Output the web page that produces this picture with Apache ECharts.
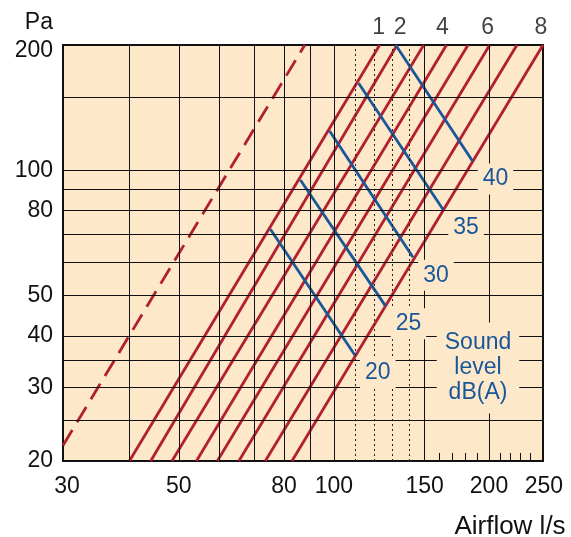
<!DOCTYPE html>
<html><head><meta charset="utf-8">
<script src="https://cdn.jsdelivr.net/npm/echarts@6/dist/echarts.min.js"></script>
<style>html,body{margin:0;padding:0;background:#fff}#c{width:571px;height:537px}</style>
</head><body><div id="c"></div>
<script>
// ---- data ----
const xTickLabels = [30, 50, 80, 100, 150, 200, 250];
const yTickLabels = [20, 30, 40, 50, 80, 100, 200];
const xGridSolid = [40, 50, 60, 70, 80, 90, 100, 150, 200];
const xGridDotted = [110, 120, 130, 140];
const yGrid = [25, 30, 35, 40, 50, 60, 70, 80, 90, 100, 150];
const xMinorTicks = [160, 170, 180, 190, 210, 220, 230, 240];
const curveFlowAt20 = [40.1, 44.1, 48.5, 54.1, 59.4, 65.4, 73.6, 82.9];
const curveFlowAt200 = [122.7, 132.6, 149.4, 165.4, 182.1, 200.6, 226.6, 254.6];
const curveLabels = ['1', '2', '', '4', '', '6', '', '8'];
const dashedStart = [29.8, 21.8];
const dashedEnd = [87.8, 200];
const soundLevels = [20, 25, 30, 35, 40];
const soundStart = [[75.3, 72.1], [86.1, 94.7], [98.1, 124.3], [111.7, 161.8], [131.8, 200]];
const soundEnd = [[109.8, 35.95], [125.9, 47.2], [142.4, 61.8], [162.9, 80.5], [185.8, 105.2]];

// ---- style ----
const FONT = '"Liberation Sans", Arial, Helvetica, sans-serif';
const BG = '#FDE8C9';
const RED = '#B21F2E';
const BLUE = '#1A5798';
const INK = '#111';
const labelOffsetX = {'2': 3, '4': -4, '1': -1, '6': -2, '8': -2};

function nearest(list, v) {
  let best = list[0], bd = Infinity;
  list.forEach(t => { const d = Math.abs(Math.log(t) - Math.log(v)); if (d < bd) { bd = d; best = t; } });
  return best;
}

const chart = echarts.init(document.getElementById('c'), null, {renderer: 'canvas'});

const series = [];
// grid lines via markLine on a helper series
series.push({
  type: 'line', z: 1, data: [[100, 100]], symbol: 'none', lineStyle: {width: 0}, silent: true,
  markLine: {
    silent: true, symbol: ['none', 'none'], label: {show: false}, animation: false,
    data: [
      ...xGridSolid.map(v => ({xAxis: v, lineStyle: {color: INK, width: 1, type: 'solid'}})),
      ...xGridDotted.map(v => ({xAxis: v, lineStyle: {color: '#222', width: 1, type: [2, 3]}})),
      ...yGrid.map(v => ({yAxis: v, lineStyle: {color: INK, width: 1, type: 'solid'}}))
    ]
  }
});
// dashed curve
series.push({
  type: 'line', z: 3, symbol: 'none', silent: true,
  data: [dashedStart, dashedEnd],
  lineStyle: {color: RED, width: 2.8, type: [18, 9]}
});
// solid curves
curveFlowAt20.forEach((q, i) => {
  series.push({
    type: 'line', z: 3, symbol: 'none', silent: true,
    data: [[q, 20], [curveFlowAt200[i], 200]],
    lineStyle: {color: RED, width: 2.8}
  });
});
// top labels for curves
series.push({
  type: 'scatter', z: 5, symbolSize: 1, itemStyle: {color: 'transparent'}, silent: true,
  data: curveFlowAt200.map((q, i) => ({
    value: [q, 200],
    label: {show: true, formatter: curveLabels[i],
            offset: [labelOffsetX[curveLabels[i]] || 0, 0]}
  })).filter((d, i) => curveLabels[i] !== ''),
  label: {position: 'top', distance: 5, color: INK, fontSize: 23, fontFamily: FONT}
});
// sound level lines
soundLevels.forEach((db, i) => {
  series.push({
    type: 'line', z: 4, symbol: 'none', silent: true,
    data: [soundStart[i], soundEnd[i]],
    lineStyle: {color: BLUE, width: 2.8}
  });
});
// sound level labels
series.push({
  type: 'scatter', z: 10, symbolSize: 1, itemStyle: {color: 'transparent'}, silent: true,
  data: soundEnd.map((p, i) => ({value: p, name: String(soundLevels[i])})),
  label: {show: true, position: [23.5, 18.5], align: 'center', verticalAlign: 'middle',
          formatter: p => p.name, opacity: 1, textBorderWidth: 0,
          color: BLUE, fontSize: 23, fontFamily: FONT, backgroundColor: BG, padding: [4, 5]}
});

chart.setOption({
  animation: false,
  backgroundColor: '#fff',
  grid: {left: 63, top: 45, right: 28, bottom: 76, show: true, backgroundColor: BG,
         borderColor: INK, borderWidth: 2},
  xAxis: {
    type: 'log', logBase: 10, min: 29.8, max: 254.6,
    axisLine: {show: false},
    splitLine: {show: false},
    minorTick: {show: false},
    axisTick: {show: true, inside: true, length: 8, lineStyle: {color: INK, width: 1}, customValues: xMinorTicks},
    axisLabel: {
      customValues: xTickLabels, margin: 14, color: INK, fontSize: 23, fontFamily: FONT,
      formatter: v => { const t = nearest(xTickLabels, v); return t === 250 ? '{r|250}' : t === 30 ? '{l|30}' : String(t); },
      rich: {
        r: {fontSize: 23, fontFamily: FONT, color: INK, padding: [0, 0, 0, 10]},
        l: {fontSize: 23, fontFamily: FONT, color: INK, padding: [0, 0, 0, 5]}
      }
    }
  },
  yAxis: {
    type: 'log', logBase: 10, min: 20, max: 200,
    axisLine: {show: false},
    splitLine: {show: false},
    minorTick: {show: false},
    axisTick: {show: false},
    axisLabel: {
      customValues: yTickLabels, margin: 10, color: INK, fontSize: 23, fontFamily: FONT,
      formatter: v => { const t = nearest(yTickLabels, v); return t === 200 ? '{t|200}' : String(t); },
      rich: {t: {fontSize: 23, fontFamily: FONT, color: INK, padding: [12, 0, 0, 0]}}
    }
  },
  graphic: [
    {type: 'text', z: 100, x: 53, y: 23,
     style: {text: 'Pa', fill: INK, font: '23px ' + FONT, textAlign: 'right', textVerticalAlign: 'middle'}},
    {type: 'text', z: 100, x: 510, y: 527,
     style: {text: 'Airflow l/s', fill: INK, font: '26px ' + FONT, textAlign: 'center', textVerticalAlign: 'middle'}},
    {type: 'text', z: 100, x: 478, y: 368,
     style: {text: 'Sound\nlevel\ndB(A)', fill: BLUE, font: '23px ' + FONT, lineHeight: 25,
             textAlign: 'center', textVerticalAlign: 'middle', backgroundColor: BG, padding: [8, 8]}}
  ],
  series: series
});
</script></body></html>
